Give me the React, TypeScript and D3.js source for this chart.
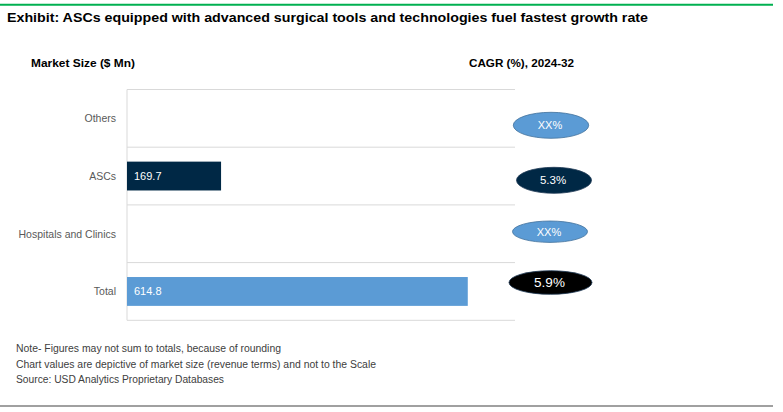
import React from "react";
import * as d3 from "d3";

const categories = ["Others", "ASCs", "Hospitals and Clinics", "Total"];
const marketSize: (number | null)[] = [null, 169.7, null, 614.8];
const cagrLabels = ["XX%", "5.3%", "XX%", "5.9%"];
const barColors = ["#5B9BD5", "#002845", "#5B9BD5", "#5B9BD5"];
const ellipseFill = ["#5B9BD5", "#002845", "#5B9BD5", "#000000"];
const ellipseStroke = ["#41719C", "#1F3A55", "#41719C", "#1F3A55"];
const ellipseDx = [551, 554, 550, 550.5];
const ellipseRx = [37.7, 37.5, 37.5, 41.5];
const ellipseRy = [13, 13, 10.7, 11.8];
const ellipseFont = [11, 11.5, 11, 13.5];
const notes = [
  "Note- Figures may not sum to totals, because of rounding",
  "Chart values are depictive of market size (revenue terms) and not to the Scale",
  "Source: USD Analytics Proprietary Databases",
];
const noteWidths = [265, 360, 208];

const W = 783;
const H = 412;
const plot = { left: 127, right: 515, top: 89.5, bottom: 320.3 };

export default function App() {
  const x = d3.scaleLinear().domain([0, 700]).range([plot.left, plot.right]);
  const y = d3
    .scaleBand<string>()
    .domain(categories)
    .range([plot.top, plot.bottom])
    .paddingInner(0.5)
    .paddingOuter(0.25);
  const step = y.step();
  const font = "'Liberation Sans', Arial, sans-serif";

  return (
    <svg
      width={W}
      height={H}
      style={{ position: "absolute", left: 0, top: 0, background: "#fff" }}
      fontFamily={font}
    >
      <line x1={0} x2={773} y1={4.8} y2={4.8} stroke="#00B050" strokeWidth={2} />
      <text x={7} y={22} fontSize={13} fontWeight="bold" fill="#000" textLength={641} lengthAdjust="spacingAndGlyphs">
        Exhibit: ASCs equipped with advanced surgical tools and technologies fuel fastest growth rate
      </text>

      <text x={31} y={67} fontSize={11} fontWeight="bold" fill="#000" textLength={104} lengthAdjust="spacingAndGlyphs">
        Market Size ($ Mn)
      </text>
      <text x={469} y={67} fontSize={11} fontWeight="bold" fill="#000" textLength={105} lengthAdjust="spacingAndGlyphs">
        CAGR (%), 2024-32
      </text>

      {categories.map((c, i) => {
        const yy = plot.top + i * step;
        return <line key={"g" + c} x1={plot.left} x2={plot.right} y1={yy} y2={yy} stroke="#D9D9D9" strokeWidth={1} />;
      })}
      <line x1={plot.left} x2={plot.right} y1={plot.bottom} y2={plot.bottom} stroke="#D9D9D9" strokeWidth={1} />
      <line x1={plot.left} x2={plot.left} y1={plot.top} y2={plot.bottom} stroke="#D9D9D9" strokeWidth={1} />

      {categories.map((c, i) => {
        const cy = (y(c) ?? 0) + y.bandwidth() / 2;
        const v = marketSize[i];
        return (
          <g key={c}>
            <text x={116} y={cy + 4} textAnchor="end" fontSize={10.5} fill="#595959">
              {c}
            </text>
            {v != null && (
              <>
                <rect x={x(0)} y={y(c)} width={x(v) - x(0)} height={y.bandwidth()} fill={barColors[i]} />
                <text x={x(0) + 7} y={cy + 4} fontSize={11} fill="#fff">
                  {v.toFixed(1)}
                </text>
              </>
            )}
          </g>
        );
      })}

      {categories.map((c, i) => {
        const cy = [125.3, 180.3, 231.7, 282.5][i];
        return (
          <g key={"e" + c}>
            <ellipse
              cx={ellipseDx[i]}
              cy={cy}
              rx={ellipseRx[i]}
              ry={ellipseRy[i]}
              fill={ellipseFill[i]}
              stroke={ellipseStroke[i]}
              strokeWidth={0.8}
            />
            <text
              x={ellipseDx[i] - 1}
              y={cy + ellipseFont[i] * 0.36}
              textAnchor="middle"
              fontSize={ellipseFont[i]}
              fill="#fff"
            >
              {cagrLabels[i]}
            </text>
          </g>
        );
      })}

      {notes.map((n, i) => (
        <text
          key={n}
          x={16}
          y={352 + i * 15.5}
          fontSize={10}
          fill="#404040"
          textLength={noteWidths[i]}
          lengthAdjust="spacingAndGlyphs"
        >
          {n}
        </text>
      ))}
      <line x1={0} x2={773} y1={406} y2={406} stroke="#808080" strokeWidth={1.5} />
    </svg>
  );
}
